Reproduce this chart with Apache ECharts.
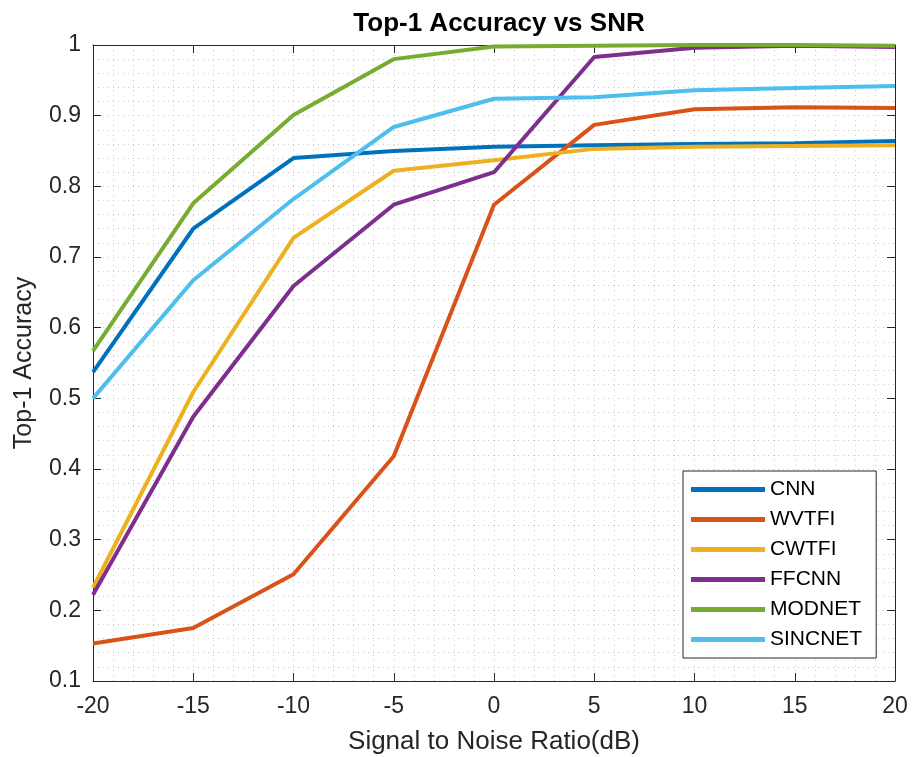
<!DOCTYPE html>
<html>
<head>
<meta charset="utf-8">
<script src="https://cdn.jsdelivr.net/npm/echarts@6/dist/echarts.min.js"></script>
<style>
  html, body { margin: 0; padding: 0; background: #fff; }
  #chart { width: 912px; height: 757px; }
</style>
</head>
<body>
<div id="chart"></div>
<script>
// SNR levels (dB)
const snr = [-20, -15, -10, -5, 0, 5, 10, 15, 20];

// Top-1 accuracy per model
const cnn     = [0.537, 0.740, 0.840, 0.850, 0.856, 0.858, 0.860, 0.861, 0.864];
const wvtfi   = [0.153, 0.175, 0.251, 0.418, 0.774, 0.887, 0.909, 0.912, 0.911];
const cwtfi   = [0.232, 0.509, 0.727, 0.822, 0.837, 0.853, 0.856, 0.857, 0.858];
const ffcnn   = [0.222, 0.474, 0.659, 0.774, 0.820, 0.983, 0.996, 0.999, 0.997];
const modnet  = [0.567, 0.776, 0.901, 0.980, 0.998, 0.999, 1.000, 1.000, 0.999];
const sincnet = [0.500, 0.667, 0.782, 0.884, 0.924, 0.926, 0.936, 0.939, 0.942];

const seriesNames = ['CNN', 'WVTFI', 'CWTFI', 'FFCNN', 'MODNET', 'SINCNET'];
const seriesData = [cnn, wvtfi, cwtfi, ffcnn, modnet, sincnet];
const colors = ['#0072BD', '#D95319', '#EDB120', '#7E2F8E', '#77AC30', '#4DBEEE'];

const font = 'Liberation Sans, Arial, sans-serif';
const axisColor = '#262626';
const gridDots = { color: '#c8c8c8', type: [1, 4], width: 1 };

function pairs(arr) { return arr.map((v, i) => [snr[i], v]); }

const xCommon = {
  type: 'value', min: -20, max: 20, interval: 5,
  axisLine: { show: true, onZero: false, lineStyle: { color: axisColor, width: 1 } },
  axisTick: { show: true, inside: true, length: 8, lineStyle: { color: axisColor } },
  minorTick: { show: false, splitNumber: 5 },
};
const yCommon = {
  type: 'value', min: 0.1, max: 1, interval: 0.1,
  axisLine: { show: true, onZero: false, lineStyle: { color: axisColor, width: 1 } },
  axisTick: { show: true, inside: true, length: 8, lineStyle: { color: axisColor } },
  minorTick: { show: false, splitNumber: 5 },
};

const chart = echarts.init(document.getElementById('chart'));
chart.setOption({
  animation: false,
  backgroundColor: '#fff',
  title: {
    text: 'Top-1 Accuracy vs SNR',
    left: 494, top: 6, textAlign: 'center',
    textStyle: { fontFamily: font, fontSize: 26, fontWeight: 'bold', color: '#000' }
  },
  grid: { left: 93, right: 17, top: 45, bottom: 76, containLabel: false, outerBoundsMode: 'none' },
  legend: {
    orient: 'vertical',
    left: 683, top: 471,
    padding: [8, 14, 8, 8],
    itemGap: 9,
    itemWidth: 74, itemHeight: 5,
    icon: 'rect',
    backgroundColor: '#fff',
    borderColor: axisColor, borderWidth: 1, borderRadius: 0,
    textStyle: { fontFamily: font, fontSize: 21, lineHeight: 21, color: '#000' },
    data: seriesNames
  },
  xAxis: [
    Object.assign({}, xCommon, {
      position: 'bottom',
      name: 'Signal to Noise Ratio(dB)', nameLocation: 'middle', nameGap: 48,
      nameTextStyle: { fontFamily: font, fontSize: 26, color: axisColor },
      axisLabel: { fontFamily: font, fontSize: 23, color: axisColor, margin: 14 },
      splitLine: { show: true, lineStyle: gridDots },
      minorSplitLine: { show: true, lineStyle: gridDots },
    }),
    Object.assign({}, xCommon, {
      position: 'top',
      axisLabel: { show: false },
      splitLine: { show: false }
    })
  ],
  yAxis: [
    Object.assign({}, yCommon, {
      position: 'left',
      name: 'Top-1 Accuracy', nameLocation: 'middle', nameGap: 56, nameRotate: 90,
      nameTextStyle: { fontFamily: font, fontSize: 25, color: axisColor },
      axisLabel: { fontFamily: font, fontSize: 23, color: axisColor, margin: 12,
                   formatter: v => String(Math.round(v * 10) / 10) },
      splitLine: { show: true, lineStyle: gridDots },
      minorSplitLine: { show: true, lineStyle: gridDots },
    }),
    Object.assign({}, yCommon, {
      position: 'right',
      axisLabel: { show: false },
      splitLine: { show: false }
    })
  ],
  series: seriesNames.map((name, i) => ({
    name: name,
    type: 'line',
    data: pairs(seriesData[i]),
    xAxisIndex: 0, yAxisIndex: 0,
    showSymbol: false, symbol: 'none',
    color: colors[i],
    lineStyle: { width: 4, color: colors[i] },
    clip: false,
    z: 3
  }))
});
</script>
</body>
</html>
